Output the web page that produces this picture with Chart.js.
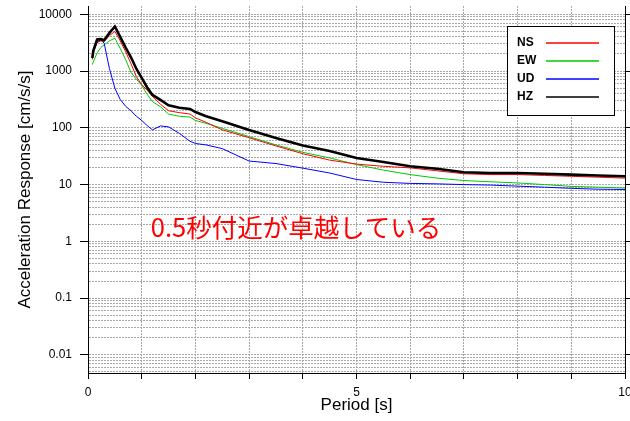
<!DOCTYPE html>
<html>
<head>
<meta charset="utf-8">
<script src="https://cdn.jsdelivr.net/npm/chart.js@4"></script>
<style>
  html, body { margin: 0; padding: 0; background: #fff; }
  #wrap { width: 630px; height: 421px; }
</style>
</head>
<body>
<div id="wrap"><canvas id="spectrum" width="630" height="421"></canvas></div>
<script>
// Periodos [s]
const periods = [0.08, 0.1, 0.17, 0.24, 0.3, 0.4, 0.5, 0.6, 0.7, 0.8, 0.9, 1.0, 1.1, 1.2, 1.35, 1.5, 1.7, 1.9, 2.0, 2.2,
                 2.5, 3.0, 3.5, 4.0, 4.5, 5.0, 5.5, 6.0, 6.5, 7.0, 7.5, 8.0, 8.5, 9.0, 9.5, 10.0];

// Respuesta de aceleracion [cm/s/s]
const ns = [1600, 2100, 3200, 3400, 3300, 4200, 5000, 3400, 2200, 1350, 800, 580, 460, 360, 260, 200, 185, 175, 150, 125,
            92, 67, 48, 35, 27, 23, 21, 19.7, 17.5, 15.5, 15, 15, 14.5, 14, 13.5, 13];
const ew = [1300, 1450, 2100, 2600, 2900, 3400, 3800, 2500, 1600, 950, 720, 560, 390, 290, 235, 175, 160, 155, 135, 120,
            98, 70, 50, 37, 29.5, 22.5, 18, 15, 13, 11.8, 11.2, 10.7, 10, 9.3, 9, 8.7];
const ud = [1800, 2300, 3200, 3600, 3100, 1100, 500, 316, 240, 200, 160, 135, 110, 92, 108, 104, 80, 58, 53, 50,
            43, 26, 23.5, 19.5, 16, 12.3, 11, 10.5, 10.3, 10, 9.8, 9.4, 9, 8.6, 8.3, 8.2];
const hz = [1700, 2300, 3600, 3650, 3500, 4700, 6100, 4000, 2600, 1750, 1100, 760, 520, 380, 310, 250, 225, 215, 190, 160,
            130, 92, 66, 49, 39, 29.5, 25, 21, 19, 16.5, 16, 16, 15.5, 15, 14.5, 14];

const seriesLabels = ['NS', 'EW', 'UD', 'HZ'];
const seriesColors = ['#ff0000', '#00c800', '#0000ff', '#000000'];

// Ejes
const yMin = 0.0048, yMax = 14000;
const yDecades = [0.01, 0.1, 1, 10, 100, 1000, 10000];
const yTickLabels = ['0.01', '0.1', '1', '10', '100', '1000', '10000'];
const xLabelled = [0, 5, 10];

// Anotacion
const noteText = '0.5秒付近が卓越している';
const notePos = { x: 1.17, y: 1.75 };

const FONT = "'Liberation Sans', Arial, sans-serif";

function toPoints(values) {
    return periods.map((p, i) => ({ x: p, y: values[i] }));
}

function isDecade(v) {
    return yDecades.some(d => Math.abs(v - d) / d < 1e-6);
}

// Ticks 1..9 x 10^n dentro del rango
function logTicks(axis) {
    const ticks = [];
    for (let e = -3; e <= 4; e++) {
        for (let m = 1; m <= 9; m++) {
            const v = Math.round(m * Math.pow(10, e) * 1e6) / 1e6;
            if (v >= yMin && v <= yMax) ticks.push({ value: v, major: m === 1 });
        }
    }
    axis.ticks = ticks;
}

// Sin margen extra por las etiquetas de los extremos
function noEdgePadding(axis) {
    axis.paddingLeft = 0;
    axis.paddingRight = 0;
    axis.paddingTop = 0;
    axis.paddingBottom = 0;
}

// Leyenda con recuadro dentro del area
const boxLegend = {
    id: 'boxLegend',
    afterDraw(chart) {
        const { ctx, chartArea } = chart;
        const left = Math.round(chartArea.right - 118), top = Math.round(chartArea.top + 20);
        const w = 107, h = 89;
        ctx.save();
        ctx.setLineDash([]);
        ctx.fillStyle = '#fff';
        ctx.fillRect(left, top, w, h);
        ctx.strokeStyle = '#000';
        ctx.lineWidth = 1;
        ctx.strokeRect(left + 0.5, top + 0.5, w, h);
        ctx.font = 'bold 12px ' + FONT;
        ctx.textBaseline = 'middle';
        seriesLabels.forEach((label, i) => {
            const y = top + 17 + i * 18;
            ctx.fillStyle = '#000';
            ctx.fillText(label, left + 10, y);
            ctx.strokeStyle = seriesColors[i];
            ctx.lineWidth = 1.5;
            ctx.beginPath();
            ctx.moveTo(left + 39, y);
            ctx.lineTo(left + 92, y);
            ctx.stroke();
        });
        ctx.restore();
    }
};

// Texto rojo
const note = {
    id: 'note',
    afterDatasetsDraw(chart) {
        const { ctx, scales } = chart;
        ctx.save();
        ctx.fillStyle = '#ff0000';
        ctx.font = "25.5px 'Noto Sans CJK JP', sans-serif";
        ctx.textBaseline = 'middle';
        ctx.fillText(noteText, scales.x.getPixelForValue(notePos.x), scales.y.getPixelForValue(notePos.y));
        ctx.restore();
    }
};

const gridGray = '#a8a8a8';
const widths = [1, 1, 1, 2.6];
const drawOrder = [1, 3, 2, 0];

new Chart(document.getElementById('spectrum'), {
    type: 'line',
    data: {
        datasets: [ns, ew, ud, hz].map((vals, i) => ({
            label: seriesLabels[i],
            data: toPoints(vals),
            borderColor: seriesColors[i],
            borderWidth: widths[i],
            order: drawOrder[i]
        }))
    },
    options: {
        responsive: false,
        animation: false,
        devicePixelRatio: 1,
        layout: { padding: { top: 6, right: 0, left: 0, bottom: 0 } },
        elements: { point: { radius: 0 }, line: { tension: 0 } },
        plugins: { legend: { display: false }, tooltip: { enabled: false } },
        scales: {
            x: {
                type: 'linear',
                min: 0,
                max: 10,
                afterFit: axis => { axis.height = 48; noEdgePadding(axis); },
                ticks: {
                    stepSize: 1,
                    autoSkip: false,
                    maxRotation: 0,
                    padding: 6,
                    color: '#000',
                    font: { family: FONT, size: 12 },
                    callback: v => xLabelled.includes(v) ? String(v) : ''
                },
                grid: { color: gridGray, tickColor: '#000', tickLength: 6 },
                border: { color: '#000', width: 1, dash: [2, 1] },
                title: {
                    display: true,
                    text: 'Period [s]',
                    color: '#000',
                    font: { family: FONT, size: 17 },
                    padding: { top: 0, bottom: 5 }
                }
            },
            y: {
                type: 'logarithmic',
                position: 'left',
                min: yMin,
                max: yMax,
                afterBuildTicks: logTicks,
                afterFit: axis => { axis.width = 88; noEdgePadding(axis); },
                ticks: {
                    autoSkip: false,
                    padding: 8,
                    color: '#000',
                    font: { family: FONT, size: 12 },
                    callback: v => {
                        const i = yDecades.findIndex(d => Math.abs(v - d) / d < 1e-6);
                        return i >= 0 ? yTickLabels[i] : '';
                    }
                },
                grid: {
                    color: gridGray,
                    tickLength: 8,
                    tickColor: c => (c.tick && isDecade(c.tick.value)) ? '#000' : 'rgba(0,0,0,0)'
                },
                border: { color: '#000', width: 1, dash: [2, 1] },
                title: {
                    display: true,
                    text: 'Acceleration Response [cm/s/s]',
                    color: '#000',
                    font: { family: FONT, size: 17 },
                    padding: { top: 15, bottom: 0 }
                }
            },
            y2: {
                type: 'logarithmic',
                position: 'right',
                min: yMin,
                max: yMax,
                afterBuildTicks: logTicks,
                afterFit: axis => { axis.width = 5; noEdgePadding(axis); },
                ticks: { display: false },
                grid: {
                    drawOnChartArea: false,
                    tickLength: 5,
                    tickColor: c => (c.tick && isDecade(c.tick.value)) ? '#000' : 'rgba(0,0,0,0)'
                },
                border: { color: '#000', width: 1 }
            }
        }
    },
    plugins: [note, boxLegend]
});
</script>
</body>
</html>
